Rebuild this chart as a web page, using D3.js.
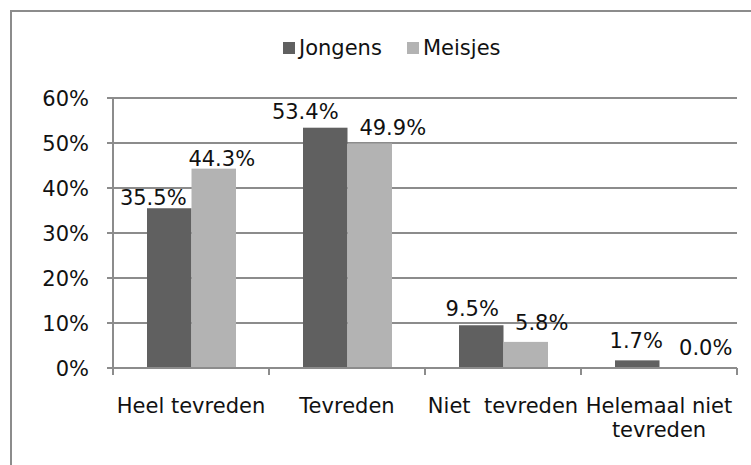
<!DOCTYPE html>
<html>
<head>
<meta charset="utf-8">
<script src="https://cdn.jsdelivr.net/npm/d3@7"></script>
<style>
  body { margin: 0; background: #fff; }
  text { font-family: "DejaVu Sans", Verdana, sans-serif; fill: #111; }
</style>
</head>
<body>
<div id="chart"></div>
<script>
// Data
const categories = [["Heel tevreden"], ["Tevreden"], ["Niet  tevreden"], ["Helemaal niet", "tevreden"]];
const series     = ["Jongens", "Meisjes"];
const jongens    = [35.5, 53.4, 9.5, 1.7];
const meisjes    = [44.3, 49.9, 5.8, 0.0];
const yTicks     = [0, 10, 20, 30, 40, 50, 60];

// Layout
const config = {
  width     : 751,
  height    : 465,
  left      : 113,
  right     : 737,
  top       : 98,
  bottom    : 368,
  colors    : ["#606060", "#b3b3b3"],
  gridColor : "#8c8c8c",
  fontSize  : 21
};
// label nudges as in the original (dx, dy) per series / category
const labelShift = [
  [[-16, 6], [-20, 0], [-9, 0], [-1, -3]],
  [[8, 6], [23, 1], [16, -3], [24, -4]]
];

const svg = d3.select("#chart")
  .append("svg")
    .attr("width", config.width)
    .attr("height", config.height);

// outer frame
svg.append("rect")
  .attr("x", 11).attr("y", 11)
  .attr("width", 800).attr("height", 500)
  .attr("fill", "none")
  .attr("stroke", config.gridColor)
  .attr("stroke-width", 2);

const x = d3.scaleBand()
  .domain(d3.range(categories.length))
  .range([config.left, config.right]);

const xInner = d3.scaleBand()
  .domain(series)
  .range([34, 123]);

const y = d3.scaleLinear()
  .domain([0, 60])
  .range([config.bottom, config.top]);

// gridlines + y ticks
svg.append("g")
  .selectAll("line")
  .data(yTicks)
  .enter()
  .append("line")
    .attr("x1", config.left - 6)
    .attr("x2", config.right)
    .attr("y1", d => y(d))
    .attr("y2", d => y(d))
    .attr("stroke", config.gridColor)
    .attr("stroke-width", 2);

svg.append("g")
  .selectAll("text")
  .data(yTicks)
  .enter()
  .append("text")
    .attr("x", 89)
    .attr("y", d => y(d))
    .attr("dy", "0.36em")
    .attr("text-anchor", "end")
    .style("font-size", config.fontSize + "px")
    .text(d => d + "%");

// y axis line
svg.append("line")
  .attr("x1", config.left).attr("x2", config.left)
  .attr("y1", config.top).attr("y2", config.bottom)
  .attr("stroke", config.gridColor)
  .attr("stroke-width", 2);

// bars
const values = [jongens, meisjes];
series.forEach(function(s, si) {
  const g = svg.append("g");
  g.selectAll("rect")
    .data(values[si])
    .enter()
    .append("rect")
      .attr("x", (d, i) => x(i) + xInner(s))
      .attr("width", xInner.bandwidth())
      .attr("y", d => y(d))
      .attr("height", d => y(0) - y(d))
      .attr("fill", config.colors[si]);

  g.selectAll("text")
    .data(values[si])
    .enter()
    .append("text")
      .attr("x", (d, i) => x(i) + xInner(s) + xInner.bandwidth() / 2 + labelShift[si][i][0])
      .attr("y", (d, i) => y(d) - 9 + labelShift[si][i][1])
      .attr("text-anchor", "middle")
      .style("font-size", config.fontSize + "px")
      .text(d => d.toFixed(1) + "%");
});

// x axis
svg.append("line")
  .attr("x1", config.left).attr("x2", config.right)
  .attr("y1", config.bottom).attr("y2", config.bottom)
  .attr("stroke", config.gridColor)
  .attr("stroke-width", 2);

svg.append("g")
  .selectAll("line")
  .data(d3.range(categories.length + 1))
  .enter()
  .append("line")
    .attr("x1", d => config.left + d * x.bandwidth())
    .attr("x2", d => config.left + d * x.bandwidth())
    .attr("y1", config.bottom)
    .attr("y2", config.bottom + 7)
    .attr("stroke", config.gridColor)
    .attr("stroke-width", 2);

const catLabels = svg.append("g")
  .selectAll("text")
  .data(categories)
  .enter()
  .append("text")
    .attr("x", (d, i) => x(i) + x.bandwidth() / 2)
    .attr("y", 413)
    .attr("text-anchor", "middle")
    .style("font-size", config.fontSize + "px")
    .style("white-space", "pre");

catLabels.selectAll("tspan")
  .data(d => d)
  .enter()
  .append("tspan")
    .attr("x", function() { return this.parentNode.getAttribute("x"); })
    .attr("dy", (d, i) => i === 0 ? 0 : 24)
    .text(d => d);

// legend
const legendX = [283, 407];
const legend = svg.append("g")
  .selectAll("g")
  .data(series)
  .enter()
  .append("g")
    .attr("transform", (d, i) => "translate(" + legendX[i] + ",42)");

legend.append("rect")
  .attr("width", 12)
  .attr("height", 12)
  .attr("fill", (d, i) => config.colors[i]);

legend.append("text")
  .attr("x", 16)
  .attr("y", 13)
  .style("font-size", config.fontSize + "px")
  .text(d => d);
</script>
</body>
</html>
